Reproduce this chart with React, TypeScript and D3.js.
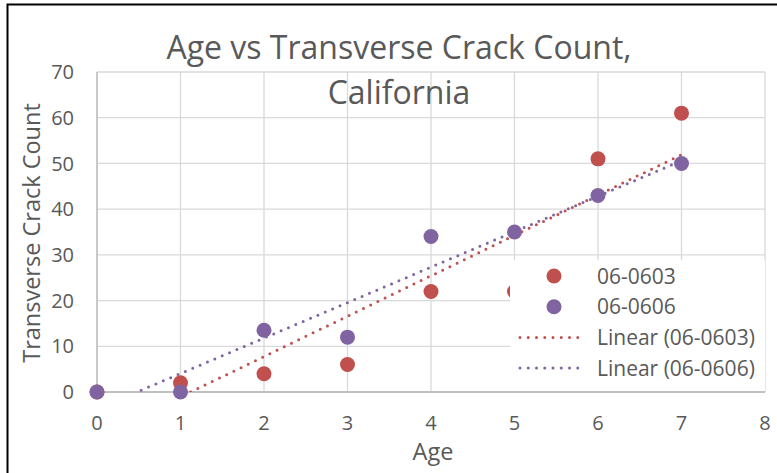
import React from "react";
import * as d3 from "d3";

// data
const ages = [0, 1, 2, 3, 4, 5, 6, 7];
const series0603 = [0, 2, 4, 6, 22, 22, 51, 61];
const series0606 = [0, 0, 13.5, 12, 34, 35, 43, 50];
const xTicks = [0, 1, 2, 3, 4, 5, 6, 7, 8];
const yTicks = [0, 10, 20, 30, 40, 50, 60, 70];
const legendLabels = ["06-0603", "06-0606", "Linear (06-0603)", "Linear (06-0606)"];

const RED = "#c0504d";
const PURPLE = "#8064a2";
const TXT = "#595959";
const FONT = "'Open Sans', 'Liberation Sans', sans-serif";

const W = 777;
const H = 473;
const margin = { top: 72, right: 9, bottom: 81, left: 97 };

function linearFit(xs: number[], ys: number[]) {
  const mx = d3.mean(xs)!;
  const my = d3.mean(ys)!;
  let sxy = 0;
  let sxx = 0;
  xs.forEach((x, i) => {
    sxy += (x - mx) * (ys[i] - my);
    sxx += (x - mx) * (x - mx);
  });
  const slope = sxy / sxx;
  return { slope, intercept: my - slope * mx };
}

export default function App() {
  const x = d3.scaleLinear().domain([0, 8]).range([margin.left, W - margin.right - 3]);
  const y = d3.scaleLinear().domain([0, 70]).range([H - margin.bottom, margin.top]);

  const fits = [
    { ys: series0603, color: RED, name: "06-0603" },
    { ys: series0606, color: PURPLE, name: "06-0606" },
  ].map((s) => ({ ...s, fit: linearFit(ages, s.ys) }));

  const trend = d3
    .line<number>()
    .x((d) => d)
    .y((d) => d);

  const x0 = x(0);
  const x1 = x(8);
  const y0 = y(0);
  const y1 = y(70);

  // legend box (bottom-right inside plot)
  const lg = { x: 510, y: 260, w: x1 - 510, h: y0 - 260 };
  const colors = [RED, PURPLE, RED, PURPLE];

  return (
    <svg
      width={W}
      height={H}
      style={{ position: "absolute", left: 0, top: 0, background: "#fff" }}
      fontFamily={FONT}
    >
      <rect x={7.5} y={4.5} width={W + 10} height={H + 10} fill="#fff" stroke="#000" strokeWidth={2} />
      <defs>
        <clipPath id="plotClip">
          <rect x={x0} y={y1} width={x1 - x0} height={y0 - y1} />
        </clipPath>
      </defs>

      {/* gridlines */}
      {yTicks.map((t) => (
        <line key={"gy" + t} x1={x0} x2={x1} y1={y(t)} y2={y(t)} stroke="#d9d9d9" strokeWidth={1.3} />
      ))}
      {xTicks.map((t) => (
        <line key={"gx" + t} x1={x(t)} x2={x(t)} y1={y1} y2={y0} stroke="#d9d9d9" strokeWidth={1.3} />
      ))}
      {/* axes */}
      <line x1={x0} x2={x0} y1={y1} y2={y0} stroke="#bfbfbf" strokeWidth={1.5} />
      <line x1={x0} x2={x1} y1={y0} y2={y0} stroke="#bfbfbf" strokeWidth={2} />

      {/* tick labels */}
      {yTicks.map((t) => (
        <text key={"ty" + t} x={x0 - 23} y={y(t)} dy="0.36em" textAnchor="end" fontSize={20} fill={TXT}>
          {t}
        </text>
      ))}
      {xTicks.map((t) => (
        <text key={"tx" + t} x={x(t)} y={y0 + 38} textAnchor="middle" fontSize={20} fill={TXT}>
          {t}
        </text>
      ))}

      {/* trendlines */}
      <g clipPath="url(#plotClip)">
        {fits.map((s) => {
          const pts: [number, number][] = [0, 7].map((a) => [x(a), y(s.fit.intercept + s.fit.slope * a)]);
          return (
            <path
              key={"tr" + s.name}
              d={d3.line()(pts)!}
              fill="none"
              stroke={s.color}
              strokeWidth={3}
              strokeLinecap="round"
              strokeDasharray="0 8"
            />
          );
        })}
      </g>

      {/* points */}
      {series0603.map((v, i) => (
        <circle key={"r" + i} cx={x(ages[i])} cy={y(v)} r={7.5} fill={RED} />
      ))}
      {series0606.map((v, i) => (
        <circle key={"p" + i} cx={x(ages[i])} cy={y(v)} r={7.5} fill={PURPLE} />
      ))}

      {/* legend */}
      <rect x={lg.x} y={lg.y} width={lg.w} height={lg.h - 1} fill="#fff" />
      {legendLabels.map((label, i) => {
        const cy = 276 + i * 30.7;
        return (
          <g key={"lg" + i}>
            {i < 2 ? (
              <circle cx={554} cy={cy} r={7.5} fill={colors[i]} />
            ) : (
              <line
                x1={520}
                x2={586}
                y1={cy}
                y2={cy}
                stroke={colors[i]}
                strokeWidth={3}
                strokeLinecap="round"
                strokeDasharray="0 8.25"
              />
            )}
            <text x={597} y={cy} dy="0.36em" fontSize={21} fill={TXT}>
              {label}
            </text>
          </g>
        );
      })}

      {/* titles */}
      <text x={399} y={59} textAnchor="middle" fontSize={32} fill={TXT}>
        Age vs Transverse Crack Count,
      </text>
      <text x={399} y={104} textAnchor="middle" fontSize={32} fill={TXT}>
        California
      </text>
      <text x={433} y={460} textAnchor="middle" fontSize={23.5} fill={TXT}>
        Age
      </text>
      <text
        transform={`translate(40, ${(y0 + y1) / 2 + 1}) rotate(-90)`}
        textAnchor="middle"
        fontSize={23.5}
        fill={TXT}
      >
        Transverse Crack Count
      </text>
    </svg>
  );
}
